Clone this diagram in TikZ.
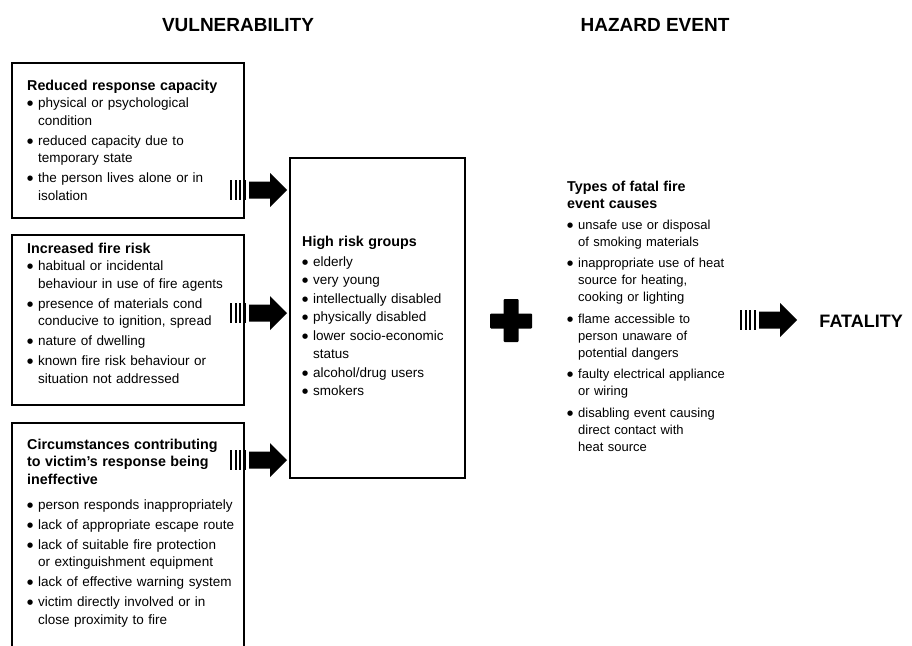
\documentclass[tikz,border=0pt]{standalone}
\usepackage{fontspec}
\setmainfont{Liberation Sans}
\newfontfamily\symfont{DejaVu Sans}
\newcommand{\bl}{\makebox[11pt][l]{\raisebox{1.8pt}{\fontsize{7}{7}\selectfont\symfont ●}}}
\newcommand{\ind}{\hspace*{11pt}}
\newcommand{\ttl}[1]{{\fontsize{14.3}{17.5}\selectfont\bfseries #1}}
\tikzset{
  panel/.style={draw, line width=1.3pt},
  bodytext/.style={anchor=base west, inner sep=0pt, text width=#1, align=left,
    font=\fontsize{13.5}{17.5}\selectfont},
  heading/.style={anchor=base, inner sep=0pt, font=\fontsize{19}{22}\selectfont\bfseries},
  blockarrow/.pic={
    \fill (0,-10) rectangle (2.3,10);
    \fill (4.5,-10) rectangle (6.8,10);
    \fill (9,-10) rectangle (11.3,10);
    \fill (13.5,-10) rectangle (15.5,10);
    \fill (19,-8.5) -- (40,-8.5) -- (40,-17) -- (57,0) -- (40,17) -- (40,8.5) -- (19,8.5) -- cycle;
  }
}
\begin{document}
\begin{tikzpicture}[x=1pt, y=-1pt]
\clip (0,0) rectangle (912,645);

% headings
\node[heading] (hv) at (238,31) {VULNERABILITY};
\node[heading] (hh) at (655,31) {HAZARD EVENT};

% boxes
\draw[panel] (12,63) rectangle (244,218);
\draw[panel] (12,235) rectangle (244,405);
\draw[panel] (12,650) -- (12,423) -- (244,423) -- (244,650);
\draw[panel] (290,158) rectangle (465,478);

\node[bodytext=215pt] (t1) at (27,90) {\ttl{Reduced response capacity}\\
\bl physical or psychological\\ \ind condition\\[2.5pt]
\bl reduced capacity due to\\ \ind temporary state\\[2.5pt]
\bl the person lives alone or in\\ \ind isolation};

\node[bodytext=215pt] (t2) at (27,253) {\ttl{Increased fire risk}\\
\bl habitual or incidental\\ \ind behaviour in use of fire agents\\[2.5pt]
\bl presence of materials cond\\ \ind conducive to ignition, spread\\[2.5pt]
\bl nature of dwelling\\[2.5pt]
\bl known fire risk behaviour or\\ \ind situation not addressed};

\node[bodytext=215pt] (t3) at (27,449) {\ttl{Circumstances contributing}\\
\ttl{to victim's response being}\\
\ttl{ineffective}\\[7.5pt]
\bl person responds inappropriately\\[2.5pt]
\bl lack of appropriate escape route\\[2.5pt]
\bl lack of suitable fire protection\\ \ind or extinguishment equipment\\[2.5pt]
\bl lack of effective warning system\\[2.5pt]
\bl victim directly involved or in\\ \ind close proximity to fire};

\node[bodytext=160pt, font=\fontsize{13.5}{18.5}\selectfont] (tc) at (302,246) {\ttl{High risk groups}\\[1.5pt]
\bl elderly\\
\bl very young\\
\bl intellectually disabled\\
\bl physically disabled\\
\bl lower socio-economic\\ \ind status\\
\bl alcohol/drug users\\
\bl smokers};

\node[bodytext=170pt, font=\fontsize{13}{17}\selectfont] (tr) at (567,191) {\ttl{Types of fatal fire}\\
\ttl{event causes}\\[4pt]
\bl unsafe use or disposal\\ \ind of smoking materials\\[4.5pt]
\bl inappropriate use of heat\\ \ind source for heating,\\ \ind cooking or lighting\\[4.5pt]
\bl flame accessible to\\ \ind person unaware of\\ \ind potential dangers\\[4.5pt]
\bl faulty electrical appliance\\ \ind or wiring\\[4.5pt]
\bl disabling event causing\\ \ind direct contact with\\ \ind heat source};

% block arrows into the high risk groups box
\pic at (230,190) {blockarrow};
\pic at (230,313) {blockarrow};
\pic at (230,460) {blockarrow};

% plus sign
\fill[rounded corners=1pt] (490,313.5) rectangle (532,328.5);
\fill[rounded corners=1pt] (503.5,299) rectangle (518.5,342);

% fatality
\pic at (740,320) {blockarrow};
\node[anchor=base east, inner sep=0pt, font=\fontsize{18}{21}\selectfont\bfseries] (fat) at (903,327) {FATALITY};
\end{tikzpicture}
\end{document}
